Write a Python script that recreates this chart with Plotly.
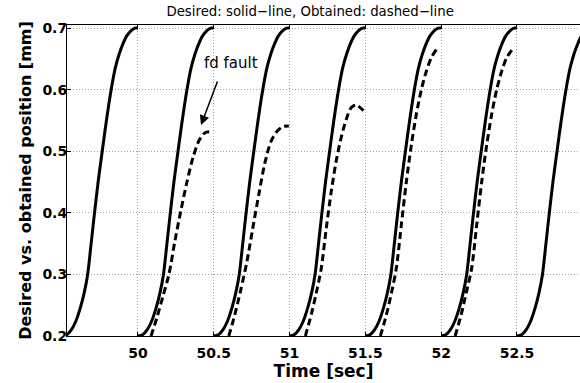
import plotly.graph_objects as go

# ---- data ----
desired_cycles_t = [
    [49.5, 49.53, 49.56, 49.59, 49.62, 49.645, 49.668, 49.69, 49.711, 49.737, 49.764, 49.793, 49.823, 49.85, 49.876, 49.9, 49.925, 49.955, 49.98, 50.0],
    [50.0, 50.03, 50.06, 50.09, 50.12, 50.145, 50.168, 50.19, 50.211, 50.237, 50.264, 50.293, 50.323, 50.35, 50.376, 50.4, 50.425, 50.455, 50.48, 50.5],
    [50.5, 50.53, 50.56, 50.59, 50.62, 50.645, 50.668, 50.69, 50.711, 50.737, 50.764, 50.793, 50.823, 50.85, 50.876, 50.9, 50.925, 50.955, 50.98, 51.0],
    [51.0, 51.03, 51.06, 51.09, 51.12, 51.145, 51.168, 51.19, 51.211, 51.237, 51.264, 51.293, 51.323, 51.35, 51.376, 51.4, 51.425, 51.455, 51.48, 51.5],
    [51.5, 51.53, 51.56, 51.59, 51.62, 51.645, 51.668, 51.69, 51.711, 51.737, 51.764, 51.793, 51.823, 51.85, 51.876, 51.9, 51.925, 51.955, 51.98, 52.0],
    [52.0, 52.03, 52.06, 52.09, 52.12, 52.145, 52.168, 52.19, 52.211, 52.237, 52.264, 52.293, 52.323, 52.35, 52.376, 52.4, 52.425, 52.455, 52.48, 52.5],
    [52.5, 52.53, 52.56, 52.59, 52.62, 52.645, 52.668, 52.69, 52.711, 52.737, 52.764, 52.793, 52.823, 52.85, 52.876, 52.9, 52.925, 52.955, 52.98, 53.0],
]
desired_cycles_y = [
    [0.2, 0.202, 0.21, 0.224, 0.246, 0.27, 0.3, 0.348, 0.395, 0.45, 0.5, 0.552, 0.6, 0.635, 0.658, 0.674, 0.687, 0.696, 0.7, 0.7],
    [0.2, 0.202, 0.21, 0.224, 0.246, 0.27, 0.3, 0.348, 0.395, 0.45, 0.5, 0.552, 0.6, 0.635, 0.658, 0.674, 0.687, 0.696, 0.7, 0.7],
    [0.2, 0.202, 0.21, 0.224, 0.246, 0.27, 0.3, 0.348, 0.395, 0.45, 0.5, 0.552, 0.6, 0.635, 0.658, 0.674, 0.687, 0.696, 0.7, 0.7],
    [0.2, 0.202, 0.21, 0.224, 0.246, 0.27, 0.3, 0.348, 0.395, 0.45, 0.5, 0.552, 0.6, 0.635, 0.658, 0.674, 0.687, 0.696, 0.7, 0.7],
    [0.2, 0.202, 0.21, 0.224, 0.246, 0.27, 0.3, 0.348, 0.395, 0.45, 0.5, 0.552, 0.6, 0.635, 0.658, 0.674, 0.687, 0.696, 0.7, 0.7],
    [0.2, 0.202, 0.21, 0.224, 0.246, 0.27, 0.3, 0.348, 0.395, 0.45, 0.5, 0.552, 0.6, 0.635, 0.658, 0.674, 0.687, 0.696, 0.7, 0.7],
    [0.2, 0.202, 0.21, 0.224, 0.246, 0.27, 0.3, 0.348, 0.395, 0.45, 0.5, 0.552, 0.6, 0.635, 0.658, 0.674, 0.687, 0.696, 0.7, 0.7],
]

obtained_cycles_t = [
    [50.086, 50.125, 50.165, 50.204, 50.244, 50.284, 50.323, 50.363, 50.402, 50.442, 50.488],
    [50.599, 50.639, 50.678, 50.718, 50.757, 50.797, 50.836, 50.876, 50.916, 50.955, 50.995],
    [51.104, 51.143, 51.176, 51.209, 51.242, 51.275, 51.308, 51.341, 51.374, 51.407, 51.441, 51.487],
    [51.599, 51.639, 51.672, 51.704, 51.737, 51.77, 51.803, 51.836, 51.869, 51.902, 51.935, 51.968],
    [52.092, 52.132, 52.165, 52.201, 52.234, 52.267, 52.3, 52.333, 52.366, 52.399, 52.432, 52.468],
]
obtained_cycles_y = [
    [0.2, 0.23, 0.265, 0.3, 0.355, 0.405, 0.45, 0.49, 0.517, 0.53, 0.532],
    [0.2, 0.235, 0.275, 0.32, 0.375, 0.43, 0.48, 0.515, 0.532, 0.54, 0.541],
    [0.2, 0.235, 0.27, 0.31, 0.375, 0.435, 0.485, 0.523, 0.552, 0.571, 0.575, 0.566],
    [0.2, 0.235, 0.27, 0.31, 0.38, 0.45, 0.51, 0.56, 0.6, 0.63, 0.652, 0.665],
    [0.2, 0.235, 0.27, 0.31, 0.38, 0.45, 0.51, 0.56, 0.6, 0.63, 0.652, 0.665],
]

x_ticks = [50, 50.5, 51, 51.5, 52, 52.5]
x_tick_labels = ["50", "50.5", "51", "51.5", "52", "52.5"]
y_ticks = [0.2, 0.3, 0.4, 0.5, 0.6, 0.7]
y_tick_labels = ["0.2", "0.3", "0.4", "0.5", "0.6", "0.7"]


def join(cycles):
    out = []
    for c in cycles:
        out.extend(c)
        out.append(None)
    return out


fig = go.Figure()
fig.add_trace(go.Scatter(
    x=join(desired_cycles_t), y=join(desired_cycles_y), mode="lines",
    line=dict(color="black", width=3, shape="spline", smoothing=0.8),
    connectgaps=False, showlegend=False, hoverinfo="skip"))
fig.add_trace(go.Scatter(
    x=join(obtained_cycles_t), y=join(obtained_cycles_y), mode="lines",
    line=dict(color="black", width=3, dash="7px,4px", shape="spline", smoothing=0.8),
    connectgaps=False, showlegend=False, hoverinfo="skip"))

tick_font = dict(family="DejaVu Sans", size=14, color="black", weight="bold")
grid = dict(showgrid=True, gridcolor="#a0a0a0", gridwidth=1, griddash="1px,2px",
            zeroline=False, showline=True, linecolor="black", linewidth=1,
            ticks="inside", ticklen=4, tickcolor="black", tickfont=tick_font)

fig.update_layout(
    width=580, height=383,
    margin=dict(l=67, r=0, t=25, b=47),
    paper_bgcolor="white", plot_bgcolor="white",
    title=dict(text="Desired: solid\u2212line, Obtained: dashed\u2212line",
               font=dict(family="DejaVu Sans", size=13.3, color="black"),
               x=0.474, xref="paper", xanchor="center",
               y=1 - 11 / 383, yref="container", yanchor="middle"),
    xaxis=dict(range=[49.5317, 52.9156], tickmode="array", tickvals=x_ticks,
               ticktext=x_tick_labels, mirror="ticks", ticklabelstandoff=4,
               title=dict(text="Time [sec]",
                          font=dict(family="DejaVu Sans", size=17, color="black", weight="bold"),
                          standoff=0),
               **grid),
    yaxis=dict(range=[0.2, 0.705], tickmode="array", tickvals=y_ticks,
               ticktext=y_tick_labels, mirror=False, ticklabelstandoff=-4,
               title=dict(text="Desired vs. obtained position [mm]",
                          font=dict(family="DejaVu Sans", size=16, color="black", weight="bold"),
                          standoff=6),
               **grid),
)

fig.add_annotation(x=50.4156, y=0.5425, xref="x", yref="y", text="",
                   showarrow=True, ax=17, ay=-45, arrowhead=2, arrowsize=1.3,
                   arrowwidth=1.5, arrowcolor="black")
fig.add_annotation(x=50.6135, y=0.6432, xref="x", yref="y", text="fd fault",
                   showarrow=False, font=dict(family="DejaVu Sans", size=15, color="black"))

fig.write_html("out.html", config={"displayModeBar": False},
               post_script="document.body.style.margin='0';")
